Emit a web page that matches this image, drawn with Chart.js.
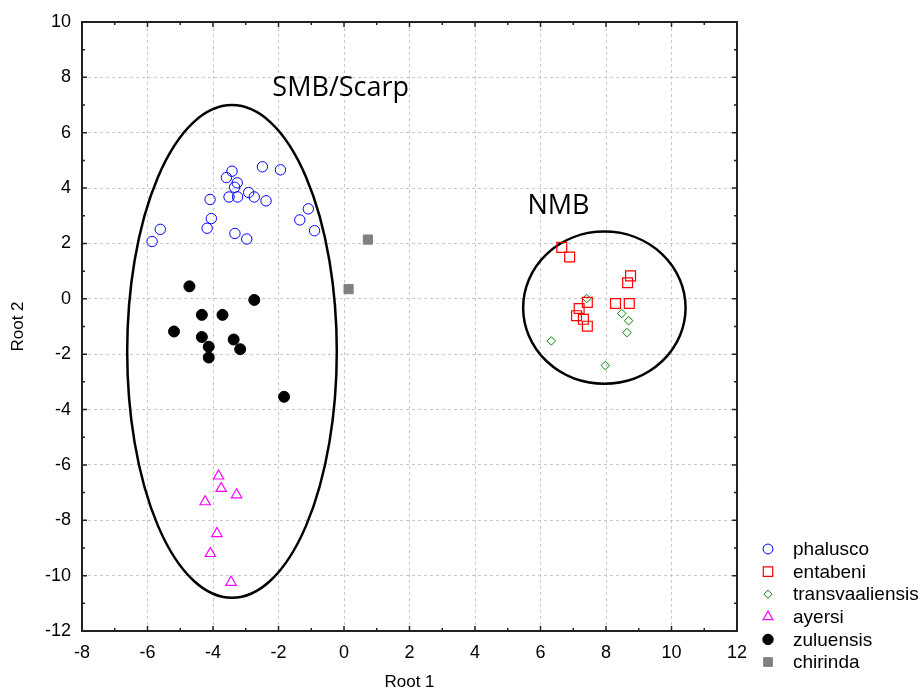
<!DOCTYPE html>
<html>
<head>
<meta charset="utf-8">
<script src="https://cdn.jsdelivr.net/npm/chart.js@4/dist/chart.umd.min.js"></script>
<style>
  html, body { margin: 0; padding: 0; background: #fff; }
  #wrap { width: 923px; height: 693px; }
</style>
</head>
<body>
<div id="wrap"><canvas id="cnvs"></canvas></div>
<script>
// scores (Root 1, Root 2)
var phaluscoX = [-5.86, -5.61, -4.18, -4.05, -4.09, -3.59, -3.42, -3.26, -3.34, -3.51, -3.25, -3.33, -2.91, -2.74, -2.97, -2.49, -2.38, -1.94, -1.35, -1.09, -0.90];
var phaluscoY = [2.07, 2.51, 2.55, 2.90, 3.59, 4.38, 4.61, 4.19, 4.03, 3.68, 3.68, 2.36, 3.84, 3.68, 2.16, 4.77, 3.54, 4.66, 2.85, 3.25, 2.46];
var entabeniX = [6.65, 6.89, 8.75, 8.66, 8.29, 8.71, 7.43, 7.18, 7.10, 7.31, 7.43];
var entabeniY = [1.86, 1.51, 0.83, 0.58, -0.17, -0.17, -0.13, -0.35, -0.61, -0.74, -0.99];
var transvaalX = [7.41, 8.48, 8.69, 8.64, 6.33, 7.98];
var transvaalY = [0.01, -0.53, -0.79, -1.22, -1.52, -2.41];
var ayersiX = [-3.83, -3.75, -3.28, -4.24, -3.88, -4.08, -3.45];
var ayersiY = [-6.40, -6.85, -7.08, -7.33, -8.48, -9.20, -10.24];
var zuluensisX = [-4.72, -2.74, -4.34, -3.71, -5.19, -4.34, -3.37, -4.13, -3.17, -4.13, -1.83];
var zuluensisY = [0.45, -0.04, -0.58, -0.58, -1.18, -1.38, -1.47, -1.73, -1.82, -2.12, -3.54];
var chirindaX = [0.73, 0.14];
var chirindaY = [2.14, 0.35];

var xTicks = [-8, -6, -4, -2, 0, 2, 4, 6, 8, 10, 12];
var yTicks = [-12, -10, -8, -6, -4, -2, 0, 2, 4, 6, 8, 10];

// group ellipses: centre x, centre y, radius x, radius y (data units) and label
var groupNames = ['SMB/Scarp', 'NMB'];
var groupCx = [-3.42, 7.95];
var groupCy = [-1.9, -0.32];
var groupRx = [3.2, 2.48];
var groupRy = [8.9, 2.75];
var labelX = [-0.1, 6.55];
var labelY = [7.6, 3.35];

function pts(xs, ys)
{
	var rtn = [];
	xs.forEach((x, i) => { rtn.push({x: x, y: ys[i]}); });
	return rtn;
}

var series = [
	{label: 'phalusco', data: pts(phaluscoX, phaluscoY), pointStyle: 'circle', radius: 5.2, borderColor: '#0000ff', backgroundColor: 'rgba(0,0,0,0)', borderWidth: 1},
	{label: 'entabeni', data: pts(entabeniX, entabeniY), pointStyle: 'rect', radius: 7, borderColor: '#ff0000', backgroundColor: 'rgba(0,0,0,0)', borderWidth: 1.2},
	{label: 'transvaaliensis', data: pts(transvaalX, transvaalY), pointStyle: 'rectRot', radius: 4.3, borderColor: '#008000', backgroundColor: 'rgba(0,0,0,0)', borderWidth: 1},
	{label: 'ayersi', data: pts(ayersiX, ayersiY), pointStyle: 'triangle', radius: 6, borderColor: '#ff00ff', backgroundColor: 'rgba(0,0,0,0)', borderWidth: 1.2},
	{label: 'zuluensis', data: pts(zuluensisX, zuluensisY), pointStyle: 'circle', radius: 5.5, borderColor: '#000000', backgroundColor: '#000000', borderWidth: 1},
	{label: 'chirinda', data: pts(chirindaX, chirindaY), pointStyle: 'rect', radius: 6.5, borderColor: '#808080', backgroundColor: '#808080', borderWidth: 1}
];

var datasets = series.map(s => ({
	label: s.label,
	data: s.data,
	pointStyle: s.pointStyle,
	pointRadius: s.radius,
	pointHoverRadius: s.radius,
	pointBorderColor: s.borderColor,
	pointBackgroundColor: s.backgroundColor,
	pointBorderWidth: s.borderWidth,
	showLine: false
}));

var extras = {
	id: 'extras',
	beforeDatasetsDraw(chart)
	{
		var ctx = chart.ctx;
		var xs = chart.scales.x, ys = chart.scales.y;
		ctx.save();
		// ellipses
		ctx.strokeStyle = '#000';
		ctx.lineWidth = 2.5;
		groupNames.forEach((n, i) => {
			var cx = xs.getPixelForValue(groupCx[i]);
			var cy = ys.getPixelForValue(groupCy[i]);
			var rx = Math.abs(xs.getPixelForValue(groupCx[i] + groupRx[i]) - cx);
			var ry = Math.abs(ys.getPixelForValue(groupCy[i] + groupRy[i]) - cy);
			ctx.beginPath();
			ctx.ellipse(cx, cy, rx, ry, 0, 0, Math.PI * 2);
			ctx.stroke();
		});
		ctx.fillStyle = '#000';
		ctx.font = '27px "Open Sans"';
		ctx.textAlign = 'center';
		ctx.textBaseline = 'middle';
		groupNames.forEach((n, i) => {
			ctx.fillText(n, xs.getPixelForValue(labelX[i]), ys.getPixelForValue(labelY[i]));
		});
		ctx.restore();
	},
	afterDraw(chart)
	{
		var ctx = chart.ctx;
		var xs = chart.scales.x, ys = chart.scales.y;
		var a = chart.chartArea;
		ctx.save();
		// frame
		ctx.strokeStyle = '#222';
		ctx.lineWidth = 2;
		ctx.strokeRect(a.left, a.top, a.right - a.left, a.bottom - a.top);
		// inward ticks, major and minor
		ctx.lineWidth = 1.5;
		ctx.beginPath();
		for (var v = -8; v <= 12; v += 1)
		{
			var len = (v % 2 == 0) ? 5 : 3;
			var px = xs.getPixelForValue(v);
			ctx.moveTo(px, a.bottom); ctx.lineTo(px, a.bottom - len);
			ctx.moveTo(px, a.top); ctx.lineTo(px, a.top + len);
		}
		for (var w = -12; w <= 10; w += 1)
		{
			var len2 = (w % 2 == 0) ? 5 : 3;
			var py = ys.getPixelForValue(w);
			ctx.moveTo(a.left, py); ctx.lineTo(a.left + len2, py);
			ctx.moveTo(a.right, py); ctx.lineTo(a.right - len2, py);
		}
		ctx.stroke();
		// legend
		var lx = 768, ly = 549, step = 22.6;
		ctx.font = '19px "Liberation Sans", Arial';
		ctx.textAlign = 'left';
		ctx.textBaseline = 'middle';
		series.forEach((s, i) => {
			var y = ly + i * step;
			ctx.strokeStyle = s.borderColor;
			ctx.fillStyle = s.backgroundColor;
			ctx.lineWidth = s.borderWidth;
			Chart.helpers.drawPoint(ctx, {pointStyle: s.pointStyle, radius: s.radius * 0.95, borderWidth: s.borderWidth, rotation: 0}, lx, y);
			ctx.fillStyle = '#000';
			ctx.fillText(s.label, lx + 25, y + 1);
		});
		ctx.restore();
	}
};

var cnvs = document.getElementById('cnvs');
var chart = new Chart(cnvs.getContext('2d'), {
	type: 'scatter',
	data: { datasets: datasets },
	plugins: [extras],
	options: {
		responsive: true,
		maintainAspectRatio: false,
		animation: false,
		layout: { padding: { left: 0, right: 186, top: 22, bottom: 0 } },
		plugins: { legend: { display: false }, tooltip: { enabled: false } },
		scales: {
			x: {
				type: 'linear',
				min: -8, max: 12,
				afterBuildTicks: (scale) => { scale.ticks = xTicks.map(v => ({value: v})); },
				afterFit: (scale) => { scale.height = 62; },
				grid: { color: '#c8c8c8', lineWidth: 1, drawTicks: false },
				border: { display: false, dash: [3, 3] },
				ticks: { color: '#000', font: { size: 18, family: '"Liberation Sans", Arial' }, padding: 11, maxRotation: 0 },
				title: { display: true, text: 'Root 1', color: '#000', font: { size: 17, family: '"Liberation Sans", Arial' }, padding: { top: 0, bottom: 0 } }
			},
			y: {
				type: 'linear',
				min: -12, max: 10,
				afterBuildTicks: (scale) => { scale.ticks = yTicks.map(v => ({value: v})); },
				afterFit: (scale) => { scale.width = 82; },
				grid: { color: '#c8c8c8', lineWidth: 1, drawTicks: false },
				border: { display: false, dash: [3, 3] },
				ticks: { color: '#000', font: { size: 18, family: '"Liberation Sans", Arial' }, padding: 11 },
				title: { display: true, text: 'Root 2', color: '#000', font: { size: 17, family: '"Liberation Sans", Arial' }, padding: { top: 8, bottom: 4 } }
			}
		}
	}
});
</script>
</body>
</html>
